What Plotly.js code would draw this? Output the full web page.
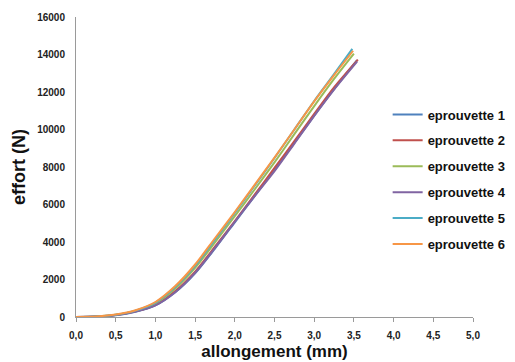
<!DOCTYPE html>
<html>
<head>
<meta charset="utf-8">
<script src="https://cdn.plot.ly/plotly-3.0.1.min.js"></script>
<style>html,body{margin:0;padding:0;background:#fff;}#chart{width:515px;height:362px;}</style>
</head>
<body>
<div id="chart"></div>
<script>
// Series names
const seriesNames = ["eprouvette 1", "eprouvette 2", "eprouvette 3", "eprouvette 4", "eprouvette 5", "eprouvette 6"];
const seriesColors = ["#4F81BD", "#C0504D", "#9BBB59", "#8064A2", "#4BACC6", "#F79646"];

// allongement (mm) for each sample
const x1 = [0, 0.25, 0.5, 0.75, 1.0, 1.25, 1.5, 1.75, 2.0, 2.25, 2.5, 2.75, 3.0, 3.25, 3.54];
const x2 = [0, 0.25, 0.5, 0.75, 1.0, 1.25, 1.5, 1.75, 2.0, 2.25, 2.5, 2.75, 3.0, 3.25, 3.55];
const x3 = [0, 0.25, 0.5, 0.75, 1.0, 1.25, 1.5, 1.75, 2.0, 2.25, 2.5, 2.75, 3.0, 3.25, 3.50];
const x4 = [0, 0.25, 0.5, 0.75, 1.0, 1.25, 1.5, 1.75, 2.0, 2.25, 2.5, 2.75, 3.0, 3.25, 3.54];
const x5 = [0, 0.25, 0.5, 0.75, 1.0, 1.25, 1.5, 1.75, 2.0, 2.25, 2.5, 2.75, 3.0, 3.25, 3.48];
const x6 = [0, 0.25, 0.5, 0.75, 1.0, 1.25, 1.5, 1.75, 2.0, 2.25, 2.5, 2.75, 3.0, 3.25, 3.49];

// effort (N) for each sample
const y1 = [0, 20, 95, 280, 620, 1320, 2330, 3650, 5050, 6450, 7850, 9280, 10740, 12150, 13700];
const y2 = [0, 22, 105, 300, 650, 1380, 2420, 3750, 5120, 6530, 7950, 9380, 10830, 12250, 13730];
const y3 = [0, 25, 115, 330, 730, 1520, 2620, 3980, 5380, 6800, 8250, 9750, 11250, 12700, 14050];
const y4 = [0, 22, 100, 290, 620, 1320, 2350, 3680, 5080, 6450, 7780, 9250, 10730, 12130, 13620];
const y5 = [0, 30, 120, 340, 770, 1600, 2730, 4120, 5550, 7000, 8480, 10000, 11520, 12950, 14300];
const y6 = [0, 30, 130, 360, 800, 1650, 2800, 4200, 5600, 7050, 8500, 10000, 11500, 12900, 14200];

// Tick values
const xTicks = [0, 0.5, 1, 1.5, 2, 2.5, 3, 3.5, 4, 4.5, 5];
const yTicks = [0, 2000, 4000, 6000, 8000, 10000, 12000, 14000, 16000];

const xs = [x1, x2, x3, x4, x5, x6];
const ys = [y1, y2, y3, y4, y5, y6];

const traces = seriesNames.map((name, i) => ({
  type: "scatter",
  mode: "lines",
  name: name,
  x: xs[i],
  y: ys[i],
  line: {color: seriesColors[i], width: 2, shape: "spline", smoothing: 0.8},
  legendgroup: "g" + i
}));

const FONT = "Liberation Sans, Arial, sans-serif";

const layout = {
  width: 515,
  height: 362,
  margin: {l: 76, r: 42, t: 17, b: 45, autoexpand: false},
  paper_bgcolor: "#ffffff",
  plot_bgcolor: "#ffffff",
  separators: ", ",
  showlegend: true,
  font: {family: FONT, color: "#222222"},
  xaxis: {
    range: [0, 5],
    tickvals: xTicks,
    tickformat: ".1f",
    showgrid: false,
    zeroline: false,
    showline: true,
    linecolor: "#9a9a9a",
    linewidth: 1,
    ticks: "outside",
    ticklen: 4,
    tickcolor: "#9a9a9a",
    ticklabelstandoff: 5,
    tickfont: {family: FONT, size: 10, color: "#222222", weight: "bold"},
    title: {text: "<b>allongement (mm)</b>", font: {family: FONT, size: 17, color: "#111111"}, standoff: 5}
  },
  yaxis: {
    range: [0, 16000],
    tickvals: yTicks,
    tickformat: "d",
    showgrid: false,
    zeroline: false,
    showline: true,
    linecolor: "#9a9a9a",
    linewidth: 1,
    ticks: "",
    ticklabelstandoff: 8,
    tickfont: {family: FONT, size: 10, color: "#222222", weight: "bold"},
    title: {text: "<b>effort (N)</b>", font: {family: FONT, size: 18, color: "#111111"}, standoff: 6}
  },
  legend: {
    x: 0.785,
    xanchor: "left",
    y: 0.725,
    yanchor: "top",
    bgcolor: "rgba(0,0,0,0)",
    tracegroupgap: 6,
    font: {family: FONT, size: 13, color: "#111111", weight: "bold"}
  }
};

Plotly.newPlot("chart", traces, layout, {displayModeBar: false, staticPlot: true});
</script>
</body>
</html>
